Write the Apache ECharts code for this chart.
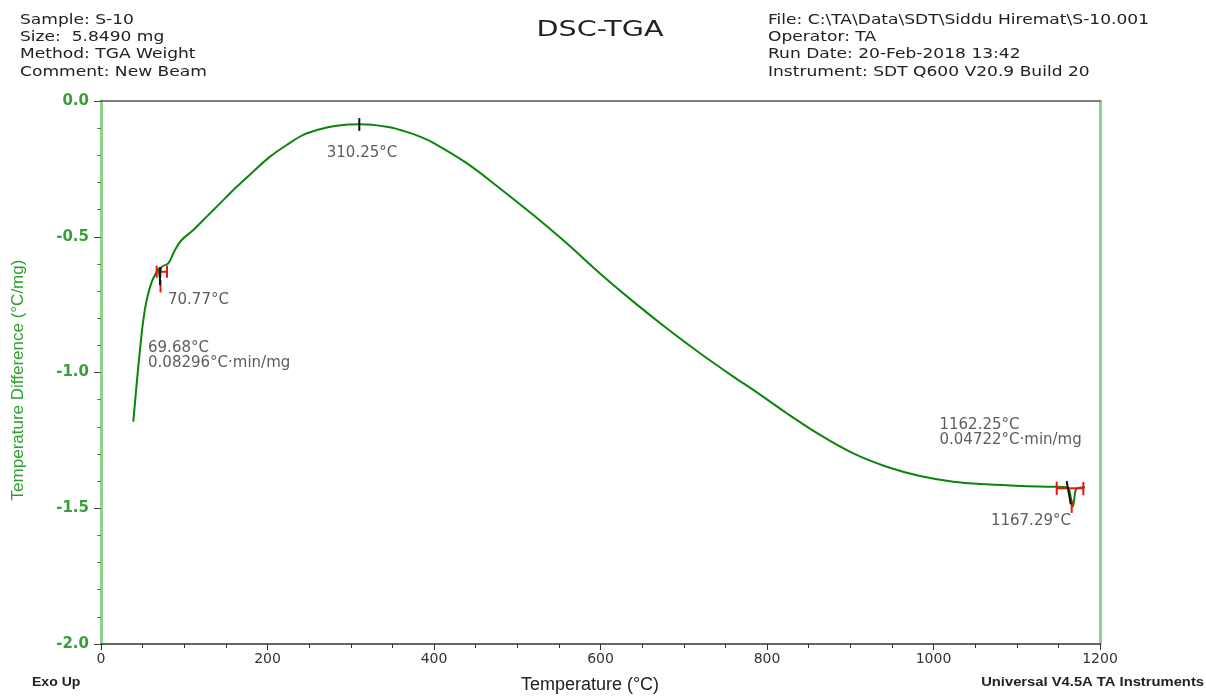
<!DOCTYPE html>
<html><head><meta charset="utf-8">
<script src="https://cdn.jsdelivr.net/npm/echarts@6/dist/echarts.min.js"></script>
<style>html,body{margin:0;padding:0;background:#fff}#c{width:1206px;height:696px}</style>
</head><body><div id="c"></div>
<script>
// ---- data (°C, °C/mg) ----
const temps = [38.8,42.9,46.8,50.8,54.9,60.9,66.9,68.8,70.8,72.8,80.8,88.9,96.9,110.9,127,143,163,182.9,203,223.1,243,263.1,283.1,311.1,343.2,363,383.2,399.2,439.3,479.3,519.3,559.4,599.4,639.4,679.5,719.5,759.5,783.5,823.7,863.7,903.7,943.8,983.8,1023.8,1063.9,1103.9,1143.9,1160,1163,1167.3,1171,1175,1182];
const heatFlow = [-1.181,-1.040,-0.917,-0.807,-0.733,-0.666,-0.629,-0.618,-0.655,-0.612,-0.598,-0.549,-0.512,-0.475,-0.426,-0.377,-0.316,-0.260,-0.205,-0.162,-0.125,-0.104,-0.091,-0.086,-0.095,-0.110,-0.131,-0.154,-0.229,-0.322,-0.420,-0.524,-0.635,-0.739,-0.837,-0.929,-1.015,-1.064,-1.150,-1.230,-1.298,-1.347,-1.381,-1.402,-1.412,-1.418,-1.421,-1.423,-1.432,-1.494,-1.432,-1.424,-1.423];
const xTicks = {min:0, max:1200, step:200};
const yTicks = {min:-2.0, max:0.0, step:0.5};
// analysis marks: [x1,y1,x2,y2]
const redMarks = [
  [66.9,-0.629,79.3,-0.629],[66.9,-0.607,66.9,-0.651],[79.3,-0.607,79.3,-0.651],[71.5,-0.660,71.5,-0.705],
  [1148,-1.4265,1180,-1.4265],[1148,-1.402,1148,-1.451],[1180,-1.403,1180,-1.452],[1166,-1.470,1166,-1.517]
];
const blackMarks = [
  [310.25,-0.063,310.25,-0.110],[70.9,-0.611,70.9,-0.678],[1160,-1.400,1164.9,-1.486]
];
const annotations = [
  {x:313.5, y:-0.1915, text:'310.25°C', align:'center'},
  {x:80.5, y:-0.733, text:'70.77°C', align:'left'},
  {x:56.5, y:-0.937, text:'69.68°C\n0.08296°C·min/mg', align:'left'},
  {x:1007.2, y:-1.221, text:'1162.25°C\n0.04722°C·min/mg', align:'left'},
  {x:1069, y:-1.547, text:'1167.29°C', align:'left'}
];
const headerLeft = ['Sample: S-10','Size:  5.8490 mg','Method: TGA Weight','Comment: New Beam'];
const headerRight = ['File: C:\\TA\\Data\\SDT\\Siddu Hiremat\\S-10.001','Operator: TA','Run Date: 20-Feb-2018 13:42','Instrument: SDT Q600 V20.9 Build 20'];

const FONT = 'DejaVu Sans';
const chart = echarts.init(document.getElementById('c'));
const series = [{
  type:'line', data: temps.map((t,i)=>[t,heatFlow[i]]), symbol:'none', smooth:0.35,
  lineStyle:{color:'#0b860b', width:2}, z:3, animation:false
}];
redMarks.forEach(m=>series.push({type:'line', data:[[m[0],m[1]],[m[2],m[3]]], symbol:'none', lineStyle:{color:'#f01010', width:2}, z:4, animation:false}));
blackMarks.forEach(m=>series.push({type:'line', data:[[m[0],m[1]],[m[2],m[3]]], symbol:'none', lineStyle:{color:'#111', width:2}, z:5, animation:false}));
series.push({
  type:'scatter', symbolSize:0, z:6, animation:false, silent:true,
  data: annotations.map(a=>({value:[a.x,a.y], name:a.text, label:{align:a.align}})),
  label:{show:true, position:[0,0], verticalAlign:'middle', formatter:p=>p.name, color:'#333', fontFamily:FONT, fontSize:15, lineHeight:15}
});

const graphic = [];
headerLeft.forEach((t,i)=>graphic.push({type:'text', x:20, y:20+i*17.3, scaleX:1.22, style:{text:t, font:'14px '+FONT, fill:'#222', textVerticalAlign:'middle'}}));
headerRight.forEach((t,i)=>graphic.push({type:'text', x:768, y:20+i*17.3, scaleX:1.22, style:{text:t, font:'14px '+FONT, fill:'#222', textVerticalAlign:'middle'}}));
graphic.push({type:'text', x:600, y:30, scaleX:1.3, style:{text:'DSC-TGA', font:'22px '+FONT, fill:'#222', textAlign:'center', textVerticalAlign:'middle'}});
graphic.push({type:'text', x:18, y:380, rotation:Math.PI/2, style:{text:'Temperature Difference (°C/mg)', font:'17px "Liberation Sans"', fill:'#2e9e2e', textAlign:'center', textVerticalAlign:'middle'}});
graphic.push({type:'text', x:590, y:685, style:{text:'Temperature (°C)', font:'18px "Liberation Sans"', fill:'#222', textAlign:'center', textVerticalAlign:'middle'}});
graphic.push({type:'text', x:32, y:683, scaleX:1.17, style:{text:'Exo Up', font:'bold 12px "Liberation Sans"', fill:'#222', textVerticalAlign:'middle'}});
graphic.push({type:'text', x:1204, y:683, scaleX:1.23, style:{text:'Universal V4.5A TA Instruments', font:'bold 12px "Liberation Sans"', fill:'#222', textAlign:'right', textVerticalAlign:'middle'}});

chart.setOption({
  animation:false,
  backgroundColor:'#fff',
  grid:{left:101, right:106, top:101, bottom:52},
  xAxis:[{
    type:'value', min:xTicks.min, max:xTicks.max, interval:xTicks.step, position:'bottom',
    axisLine:{show:true, onZero:false, lineStyle:{color:'#333', width:1.5}},
    axisTick:{show:true, length:6, lineStyle:{color:'#333'}},
    minorTick:{show:true, splitNumber:4, length:4, lineStyle:{color:'#333'}},
    axisLabel:{color:'#333', fontFamily:FONT, fontSize:14, margin:8, formatter:v=>String(v)},
    splitLine:{show:false}
  },{
    type:'value', min:xTicks.min, max:xTicks.max, position:'top',
    axisLine:{show:true, onZero:false, lineStyle:{color:'#555', width:1.5}},
    axisTick:{show:false}, axisLabel:{show:false}, splitLine:{show:false}
  }],
  yAxis:[{
    type:'value', min:yTicks.min, max:yTicks.max, interval:yTicks.step, position:'left',
    axisLine:{show:true, onZero:false, lineStyle:{color:'#8fd28f', width:3}},
    axisTick:{show:true, length:7, lineStyle:{color:'#444'}},
    minorTick:{show:true, splitNumber:5, length:4, lineStyle:{color:'#3a9a3a'}},
    axisLabel:{color:'#3a9e3a', fontFamily:FONT, fontWeight:'bold', fontSize:15, margin:12, formatter:v=>v.toFixed(1)},
    splitLine:{show:false}
  },{
    type:'value', min:yTicks.min, max:yTicks.max, position:'right',
    axisLine:{show:true, onZero:false, lineStyle:{color:'#8fd28f', width:3}},
    axisTick:{show:false}, axisLabel:{show:false}, splitLine:{show:false}
  }],
  graphic: graphic,
  series: series
});
</script></body></html>
